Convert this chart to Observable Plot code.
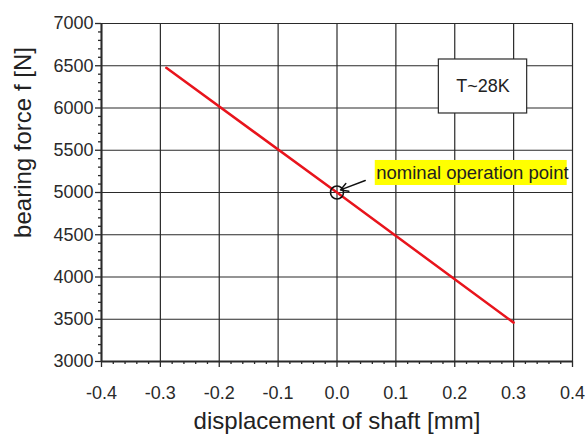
<!DOCTYPE html>
<html>
<head>
<meta charset="utf-8">
<script src="https://cdn.jsdelivr.net/npm/d3@7"></script>
<script src="https://cdn.jsdelivr.net/npm/@observablehq/plot@0.6"></script>
<style>
  html, body { margin: 0; padding: 0; background: #fff; }
</style>
</head>
<body>
<div id="chart"></div>
<script>
// ---- data ----
const displacement = [-0.29, 0.0, 0.30];          // mm
const bearingForce = [6475, 5000, 3460];          // N
const xTicks = [-0.4, -0.3, -0.2, -0.1, 0.0, 0.1, 0.2, 0.3, 0.4];
const yTicks = [3000, 3500, 4000, 4500, 5000, 5500, 6000, 6500, 7000];
const xMinorTicks = d3.range(-0.4, 0.4001, 0.02).map(v => +v.toFixed(2)).filter(v => Math.abs(Math.round(v * 10) - v * 10) > 1e-6);
const yMinorTicks = d3.range(3000, 7001, 100).filter(v => v % 500 !== 0);
const xLabel = "displacement of shaft [mm]";
const yLabel = "bearing force f [N]";
// annotations (data coordinates)
const nominalPoint = [{x: 0.0, y: 5000}];
const nominalLabel = "nominal operation point";
const nominalBox = [{x1: 0.065, x2: 0.391, y1: 5083, y2: 5379}];
const nominalArrow = [{x1: 0.048, y1: 5142, x2: 0.006, y2: 5030}];
const tempLabel = "T~28K";
const tempBox = [{x1: 0.173, x2: 0.323, y1: 5935, y2: 6574}];

const data = displacement.map((d, i) => ({x: d, y: bearingForce[i]}));
const ink = "#2a2a2a";

const chart = Plot.plot({
  width: 585,
  height: 436,
  marginLeft: 101,
  marginRight: 13,
  marginTop: 23,
  marginBottom: 75,
  style: {fontFamily: "'Liberation Sans', Arial, sans-serif", fontSize: "18px", color: ink, background: "#fff"},
  x: {domain: [-0.4, 0.4]},
  y: {domain: [3000, 7000]},
  marks: [
    Plot.ruleX(xTicks, {stroke: ink, strokeWidth: 1.2}),
    Plot.ruleY(yTicks, {stroke: ink, strokeWidth: 1.2}),
    Plot.axisX(xMinorTicks, {tickSize: 3, fill: "none", stroke: ink, strokeWidth: 1.3, label: null}),
    Plot.axisY(yMinorTicks, {tickSize: 3, fill: "none", stroke: ink, strokeWidth: 1.3, label: null}),
    Plot.axisX(xTicks, {tickSize: 6, tickPadding: 19, stroke: ink, strokeWidth: 1.3, fill: ink, fontSize: 18,
      tickFormat: d => d.toFixed(1), label: null}),
    Plot.axisY(yTicks, {tickSize: 6, tickPadding: 2, stroke: ink, strokeWidth: 1.3, fill: ink, fontSize: 18,
      tickFormat: d => String(d), label: null}),
    Plot.ruleY([3000], {stroke: ink, strokeWidth: 2}),
    Plot.ruleX([-0.4], {stroke: ink, strokeWidth: 2}),
    Plot.line(data, {x: "x", y: "y", stroke: "#e8141c", strokeWidth: 2.5}),
    Plot.dot(nominalPoint, {x: "x", y: "y", r: 6.5, stroke: "#111", strokeWidth: 1.6, fill: "none"}),
    Plot.arrow(nominalArrow, {x1: "x1", y1: "y1", x2: "x2", y2: "y2", stroke: "#111", strokeWidth: 1.4, headLength: 9, bend: 0}),
    Plot.rect(nominalBox, {x1: "x1", x2: "x2", y1: "y1", y2: "y2", fill: "#ffff00"}),
    Plot.text([nominalLabel], {x: nominalBox[0].x1, y: (nominalBox[0].y1 + nominalBox[0].y2) / 2, text: d => d,
      textAnchor: "start", dx: 1, fontSize: 18.5, fill: "#222"}),
    Plot.rect(tempBox, {x1: "x1", x2: "x2", y1: "y1", y2: "y2", fill: "#fff", stroke: ink, strokeWidth: 1.2}),
    Plot.text([tempLabel], {x: (tempBox[0].x1 + tempBox[0].x2) / 2, y: (tempBox[0].y1 + tempBox[0].y2) / 2, text: d => d,
      fontSize: 18, fill: "#222"}),
    Plot.text([xLabel], {frameAnchor: "bottom", text: d => d, dy: 60, lineAnchor: "middle", fontSize: 24, fill: "#222"}),
    Plot.text([yLabel], {frameAnchor: "left", text: d => d, rotate: -90, dx: -78, dy: -50, textAnchor: "middle", lineAnchor: "middle", fontSize: 24, fill: "#222"})
  ]
});
document.getElementById("chart").appendChild(chart);
</script>
</body>
</html>
